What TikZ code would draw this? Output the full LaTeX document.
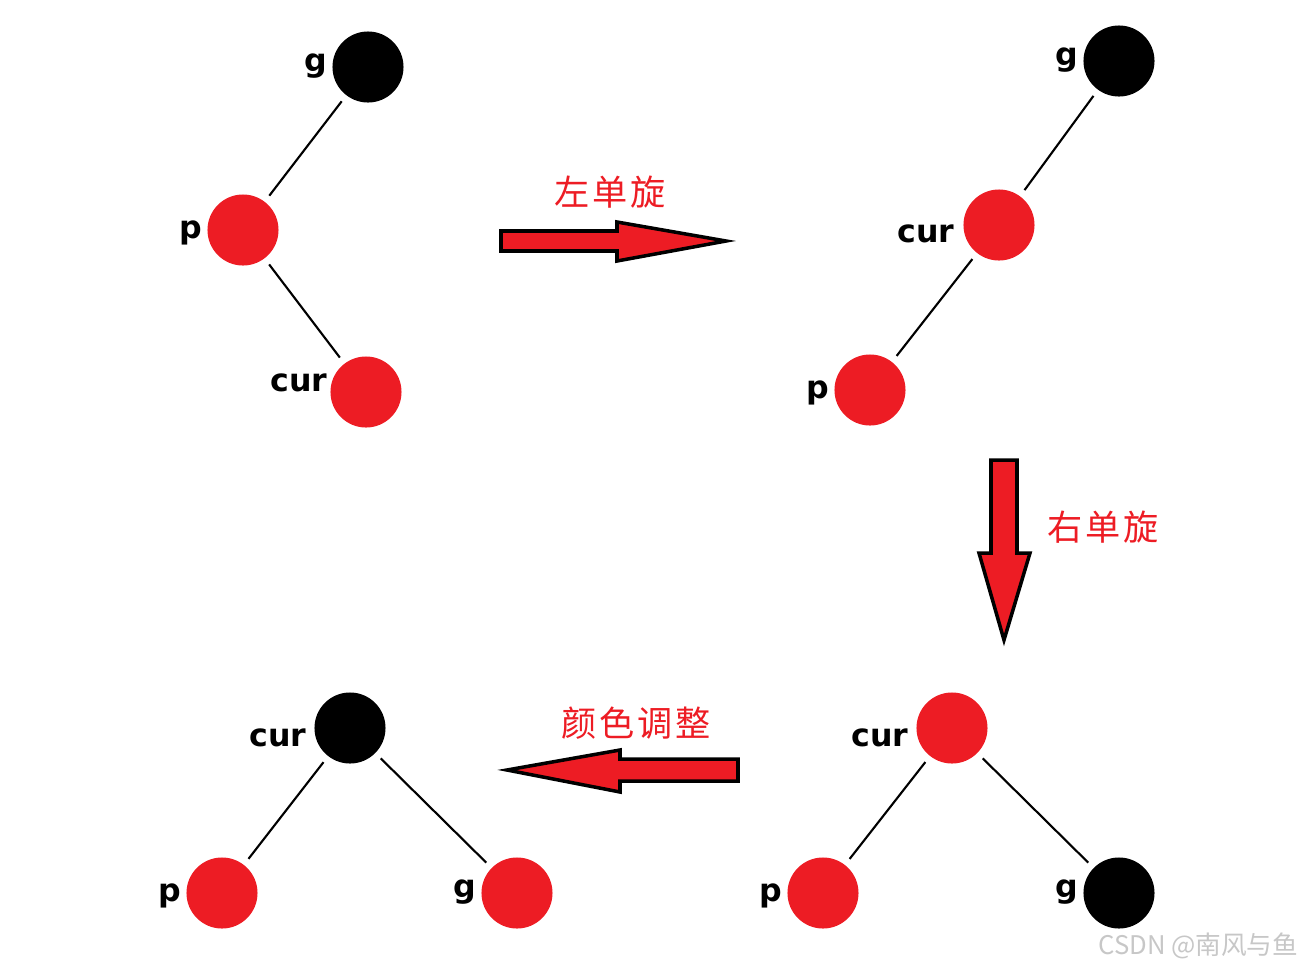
\documentclass[tikz,border=0pt]{standalone}
\usepackage{fontspec}
\setmainfont{DejaVu Sans}
\newfontfamily\cjk[LetterSpace=8]{Noto Sans CJK SC}
\definecolor{rbred}{HTML}{ED1C24}
\tikzset{
  rbnode/.style={circle,inner sep=0pt,minimum size=7.1mm},
  rednode/.style={rbnode,fill=rbred},
  blknode/.style={rbnode,fill=black},
  lbl/.style={font=\bfseries\fontsize{9}{10}\selectfont,inner sep=0.5pt,label distance=0.2mm},
  edge/.style={line width=0.6pt,shorten <=0.7mm,shorten >=0.7mm},
  bigarrow/.style={fill=rbred,draw=black,line width=1pt,line join=miter},
  arrtext/.style={text=rbred,font=\cjk\fontsize{10}{12}\selectfont}
}
\begin{document}
\begin{tikzpicture}[x=0.01cm,y=-0.01cm]
  \useasboundingbox (0,0) rectangle (1305,969);
  % before: p is left child of g, cur right child of p
  \node[blknode,label={[lbl,yshift=0.3pt]left:g}] (g1) at (368,67) {};
  \node[rednode,label={[lbl,yshift=-0.8pt]left:p}] (p1) at (243,230) {};
  \node[rednode,label={[lbl,label distance=0pt,yshift=2.5pt]left:cur}] (c1) at (366,392) {};
  \draw[edge] (g1) -- (p1);
  \draw[edge] (p1) -- (c1);
  % after left rotation round p
  \node[blknode,label={[lbl,yshift=0.3pt]left:g}] (g2) at (1119,61) {};
  \node[rednode,label={[lbl,label distance=0.6mm,yshift=-2.5pt]left:cur}] (c2) at (999,225) {};
  \node[rednode,label={[lbl,yshift=-0.8pt]left:p}] (p2) at (870,390) {};
  \draw[edge] (g2) -- (c2);
  \draw[edge] (c2) -- (p2);
  % after right rotation round g
  \node[rednode,label={[lbl,label distance=0.5mm,yshift=-2.8pt]left:cur}] (c3) at (952,728) {};
  \node[rednode,label={[lbl,yshift=-0.8pt]left:p}] (p3) at (823,893) {};
  \node[blknode,label={[lbl,yshift=0.3pt]left:g}] (g3) at (1119,893) {};
  \draw[edge] (c3) -- (p3);
  \draw[edge] (c3) -- (g3);
  % after recolouring
  \node[blknode,label={[lbl,label distance=0.5mm,yshift=-2.8pt]left:cur}] (c4) at (350,728) {};
  \node[rednode,label={[lbl,yshift=-0.8pt]left:p}] (p4) at (222,893) {};
  \node[rednode,label={[lbl,yshift=0.3pt]left:g}] (g4) at (517,893) {};
  \draw[edge] (c4) -- (p4);
  \draw[edge] (c4) -- (g4);
  % the three big arrows
  \draw[bigarrow] (501,231) -- (617,231) -- (617,222) -- (726,241)
                  -- (617,261) -- (617,251) -- (501,251) -- cycle;
  \draw[bigarrow] (991,460) -- (1017,460) -- (1017,553) -- (1030,553)
                  -- (1004,640) -- (979,553) -- (991,553) -- cycle;
  \draw[bigarrow] (738,759) -- (620,759) -- (620,750) -- (507,770)
                  -- (620,792) -- (620,781) -- (738,781) -- cycle;
  \node[arrtext] (t1) at (610,192) {左单旋};
  \node[arrtext] (t2) at (1103,527) {右单旋};
  \node[arrtext] (t3) at (636,723) {颜色调整};
  % watermark
  \node[text=black!22,font=\fontspec{Noto Sans CJK SC}\fontsize{7.3}{8}\selectfont,anchor=east,inner sep=0pt] (wm) at (1299,946) {CSDN @南风与鱼};
\end{tikzpicture}
\end{document}
